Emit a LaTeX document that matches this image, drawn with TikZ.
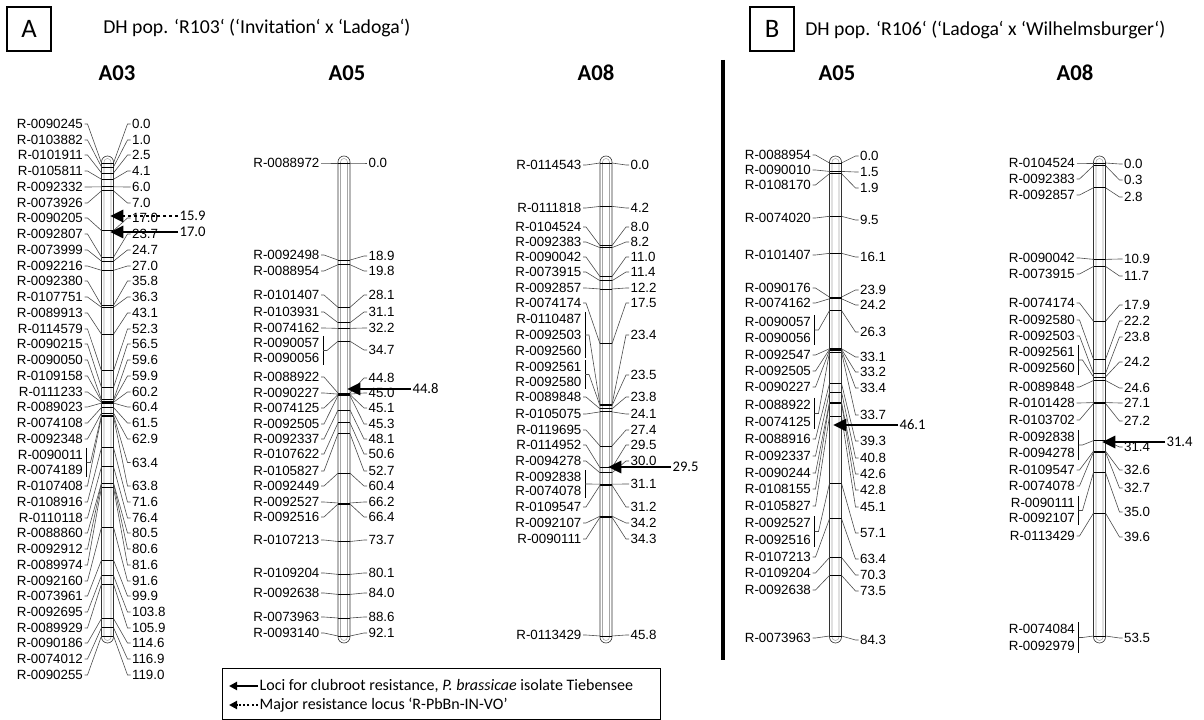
\documentclass[tikz,border=0pt]{standalone}
\usepackage{fontspec}
\setmainfont{Carlito}
\newfontfamily\mapfont{Liberation Sans}
\usetikzlibrary{arrows.meta}
\def\grp{g}
% #1 id, #2 bar x, #3 length in cM, #4 title, #5 title x, #6 names, #7 values, #8 groups
\newcommand{\chrom}[8]{%
  \node[chrtitle] (#1t) at (#5,73) {#4};
  \draw[barout] (#2-6,156) rectangle (#2+6,643);
  \draw[barin] (#2-3.5,158.5) rectangle (#2+3.5,640.5);
  \foreach \v/\ly [count=\i] in {#7}{
    \pgfmathsetmacro\by{163+\v/#3*473}
    \node[mval] (#1r\i) at (#2+23,\ly) {\v};
    \draw[mtick] (#2-6,\by) -- (#2+6,\by);
    \draw[conn] (#2+6,\by) -- (#2+20,\ly) -- (#1r\i.west);
  }
  \foreach \nm/\ly/\cm [count=\i] in {#6}{
    \node[mname] (#1l\i) at (#2-23,\ly) {\nm};
    \ifx\cm\grp\else
      \pgfmathsetmacro\by{163+\cm/#3*473}
      \draw[conn] (#1l\i.east) -- (#2-20,\ly) -- (#2-6,\by);
    \fi
  }
  \foreach \ya/\yb/\cm in {#8}{
    \pgfmathsetmacro\by{163+\cm/#3*473}
    \pgfmathsetmacro\ym{(\ya+\yb)/2}
    \draw[brk] (#2-21,\ya-7) -- (#2-21,\yb+7);
    \draw[conn] (#2-21,\ym) -- (#2-17,\ym) -- (#2-6,\by);
  }
}

\begin{document}
\begin{tikzpicture}[x=0.75pt, y=-0.75pt,
  mname/.style={anchor=east, inner sep=1pt, font=\mapfont\fontsize{10}{11}\selectfont},
  mval/.style={anchor=west, inner sep=1pt, font=\mapfont\fontsize{10}{11}\selectfont},
  conn/.style={draw=black!70, line width=0.45pt},
  mtick/.style={draw=black, line width=0.6pt},
  brk/.style={draw=black, line width=0.6pt},
  barout/.style={draw=black!80, line width=0.5pt, rounded corners=4.5pt},
  barin/.style={draw=black!35, line width=0.4pt, rounded corners=2.6pt},
  chrtitle/.style={font=\bfseries\fontsize{17}{19}\selectfont},
  qtl/.style={-{Triangle[length=10pt,width=9pt]}, line width=2.2pt},
  qtldot/.style={qtl, dash pattern=on 2.2pt off 2.2pt},
  qlabel/.style={anchor=west, inner sep=1pt, font=\fontsize{11}{12}\selectfont},
  panel/.style={draw, line width=0.8pt, minimum width=33pt, minimum height=33pt, inner sep=0pt, font=\fontsize{20}{22}\selectfont},
  poptitle/.style={anchor=west, inner sep=0pt, font=\fontsize{14.8}{16}\selectfont},
  legtext/.style={anchor=west, inner sep=1pt, font=\fontsize{12}{13}\selectfont},
  legarrow/.style={-{Triangle[length=6pt,width=6pt]}, line width=1.6pt}]
  \useasboundingbox (0,0) rectangle (1204,720);

  % panel A
  \node[panel] (pa) at (29,29) {A};
  \node[poptitle] (popa) at (103,28) {DH pop. ‘R103‘ (‘Invitation‘ x ‘Ladoga‘)};

  \chrom{a}{107.5}{119.0}{A03}{117}
    {R-0090245/124/0.0, R-0103882/140/1.0, R-0101911/155/2.5, R-0105811/171/4.1,
     R-0092332/187/6.0, R-0073926/203/7.0, R-0090205/218/17.0, R-0092807/234/23.7,
     R-0073999/250/24.7, R-0092216/266/27.0, R-0092380/281/35.8, R-0107751/297/36.3,
     R-0089913/313/43.1, R-0114579/329/52.3, R-0090215/344/56.5, R-0090050/360/59.6,
     R-0109158/376/59.9, R-0111233/392/60.2, R-0089023/407/60.4, R-0074108/423/61.5,
     R-0092348/439/62.9, R-0090011/455/g, R-0074189/470/g, R-0107408/486/63.8,
     R-0108916/502/71.6, R-0110118/518/76.4, R-0088860/533/80.5, R-0092912/549/80.6,
     R-0089974/565/81.6, R-0092160/581/91.6, R-0073961/596/99.9, R-0092695/612/103.8,
     R-0089929/628/105.9, R-0090186/643/114.6, R-0074012/659/116.9, R-0090255/675/119.0}
    {0.0/124, 1.0/140, 2.5/155, 4.1/171, 6.0/187, 7.0/203, 17.0/218, 23.7/234,
     24.7/250, 27.0/266, 35.8/281, 36.3/297, 43.1/313, 52.3/329, 56.5/344, 59.6/360,
     59.9/376, 60.2/392, 60.4/407, 61.5/423, 62.9/439, 63.4/462.5, 63.8/486,
     71.6/502, 76.4/518, 80.5/533, 80.6/549, 81.6/565, 91.6/581, 99.9/596,
     103.8/612, 105.9/628, 114.6/643, 116.9/659, 119.0/675}
    {455/470/63.4}

  \chrom{b}{344}{92.1}{A05}{347}
    {R-0088972/163/0.0, R-0092498/255/18.9, R-0088954/271/19.8, R-0101407/295/28.1,
     R-0103931/312/31.1, R-0074162/328/32.2, R-0090057/343/g, R-0090056/358/g,
     R-0088922/377/44.8, R-0090227/393/45.0, R-0074125/408/45.1, R-0092505/424/45.3,
     R-0092337/439/48.1, R-0107622/454/50.6, R-0105827/471/52.7, R-0092449/486/60.4,
     R-0092527/502/66.2, R-0092516/517/66.4, R-0107213/540/73.7, R-0109204/573/80.1,
     R-0092638/593/84.0, R-0073963/617/88.6, R-0093140/633/92.1}
    {0.0/163, 18.9/256, 19.8/271, 28.1/295, 31.1/312, 32.2/328, 34.7/350,
     44.8/378, 45.0/393, 45.1/408, 45.3/424, 48.1/439, 50.6/454, 52.7/471,
     60.4/486, 66.2/502, 66.4/517, 73.7/540, 80.1/573, 84.0/593, 88.6/617, 92.1/633}
    {343/358/34.7}

  \chrom{c}{606}{45.8}{A08}{596}
    {R-0114543/165/0.0, R-0111818/208/4.2, R-0104524/227/8.0, R-0092383/242/8.2,
     R-0090042/257/11.0, R-0073915/272/11.4, R-0092857/288/12.2, R-0074174/303/17.5,
     R-0110487/319/g, R-0092503/335/g, R-0092560/351/g, R-0092561/367/g,
     R-0092580/382/g, R-0089848/397/23.8, R-0105075/414/24.1, R-0119695/430/27.4,
     R-0114952/445/29.5, R-0094278/461/30.0, R-0092838/477/g, R-0074078/491/g,
     R-0109547/507/31.2, R-0092107/523/34.2, R-0090111/539/34.3, R-0113429/635/45.8}
    {0.0/165, 4.2/208, 8.0/227, 8.2/242, 11.0/257, 11.4/272, 12.2/288, 17.5/303,
     23.4/335, 23.5/375, 23.8/397, 24.1/414, 27.4/430, 29.5/445, 30.0/461,
     31.1/484, 31.2/507, 34.2/523, 34.3/539, 45.8/635}
    {319/351/23.4, 367/382/23.5, 477/491/31.1}

  % QTL arrows, panel A
  \node[qlabel] (qa1) at (178,216) {15.9};
  \draw[qtldot] (qa1.west) -- (110,216);
  \node[qlabel] (qa2) at (178,232) {17.0};
  \draw[qtl] (qa2.west) -- (110,232);
  \node[qlabel] (qb1) at (411,389) {44.8};
  \draw[qtl] (qb1.west) -- (347,389);
  \node[qlabel] (qc1) at (671,467) {29.5};
  \draw[qtl] (qc1.west) -- (608,467);

  % divider
  \draw[line width=3pt] (723,60) -- (723,660);

  % panel B
  \node[panel] (pb) at (772,29) {B};
  \node[poptitle] (popb) at (805,30) {DH pop. ‘R106‘ (‘Ladoga‘ x ‘Wilhelmsburger‘)};

  \chrom{d}{835.5}{84.3}{A05}{837}
    {R-0088954/155/0.0, R-0090010/170/1.5, R-0108170/185/1.9, R-0074020/218/9.5,
     R-0101407/255/16.1, R-0090176/288/23.9, R-0074162/303/24.2, R-0090057/322/g,
     R-0090056/338/g, R-0092547/355/33.1, R-0092505/371/33.2, R-0090227/387/33.4,
     R-0088922/405/g, R-0074125/422/g, R-0088916/439/39.3, R-0092337/456/40.8,
     R-0090244/473/42.6, R-0108155/489/42.8, R-0105827/506/45.1, R-0092527/523/g,
     R-0092516/540/g, R-0107213/557/63.4, R-0109204/573/70.3, R-0092638/590/73.5,
     R-0073963/638/84.3}
    {0.0/156, 1.5/172, 1.9/188, 9.5/220, 16.1/257, 23.9/290, 24.2/305, 26.3/332,
     33.1/357, 33.2/372, 33.4/388, 33.7/415, 39.3/441, 40.8/458, 42.6/474,
     42.8/490, 45.1/507, 57.1/533, 63.4/559, 70.3/575, 73.5/591, 84.3/640}
    {322/338/26.3, 405/422/33.7, 523/540/57.1}

  \chrom{e}{1099.5}{53.5}{A08}{1075}
    {R-0104524/163/0.0, R-0092383/179/0.3, R-0092857/195/2.8, R-0090042/258/10.9,
     R-0073915/274/11.7, R-0074174/303/17.9, R-0092580/320/22.2, R-0092503/336/23.8,
     R-0092561/352/g, R-0092560/368/g, R-0089848/387/24.6, R-0101428/403/27.1,
     R-0103702/420/27.2, R-0092838/437/g, R-0094278/453/g, R-0109547/470/32.6,
     R-0074078/486/32.7, R-0090111/503/g, R-0092107/518/g, R-0113429/536/39.6,
     R-0074084/629/g, R-0092979/646/g}
    {0.0/164, 0.3/180, 2.8/197, 10.9/259, 11.7/276, 17.9/305, 22.2/321, 23.8/337,
     24.2/362, 24.6/388, 27.1/403, 27.2/421, 31.4/447, 32.6/470, 32.7/488,
     35.0/512, 39.6/537, 53.5/638}
    {352/368/24.2, 437/453/31.4, 503/518/35.0, 629/646/53.5}

  % QTL arrows, panel B
  \node[qlabel] (qd1) at (898,425) {46.1};
  \draw[qtl] (qd1.west) -- (833,425);
  \node[qlabel] (qe1) at (1165,442) {31.4};
  \draw[qtl] (qe1.west) -- (1102,442);

  % legend
  \draw[line width=0.6pt] (222,668) rectangle (660,719);
  \node[legtext] (lg1) at (258,686) {Loci for clubroot resistance, \textit{P. brassicae} isolate Tiebensee};
  \draw[legarrow] (lg1.west) -- ++(-29,0);
  \node[legtext] (lg2) at (258,705) {Major resistance locus ‘R-PbBn-IN-VO’};
  \draw[legarrow, dash pattern=on 1.6pt off 1.6pt] (lg2.west) -- ++(-29,0);
\end{tikzpicture}
\end{document}
